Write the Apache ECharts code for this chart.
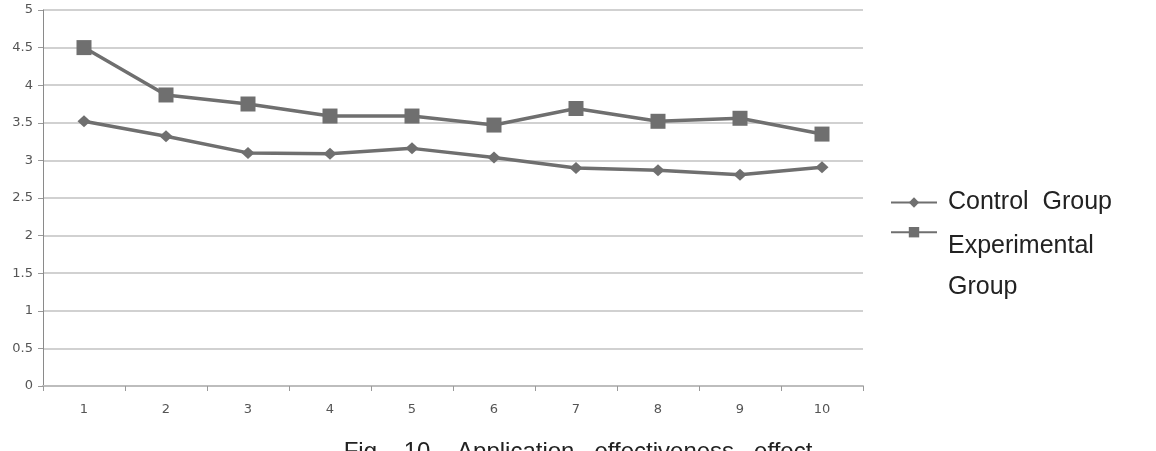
<!DOCTYPE html>
<html>
<head>
<meta charset="utf-8">
<script src="https://cdn.jsdelivr.net/npm/echarts@6/dist/echarts.min.js"></script>
<style>
html,body{margin:0;padding:0;background:#fff;}
#chart{width:1156px;height:451px;}
</style>
</head>
<body>
<div id="chart"></div>
<script>
const categories = ['1','2','3','4','5','6','7','8','9','10'];
const controlGroup = [3.52, 3.32, 3.10, 3.09, 3.16, 3.04, 2.90, 2.87, 2.81, 2.91];
const experimentalGroup = [4.50, 3.87, 3.75, 3.59, 3.59, 3.47, 3.69, 3.52, 3.56, 3.35];
const seriesNames = ['Control Group', 'Experimental Group'];
const yTicks = { min: 0, max: 5, interval: 0.5 };
const captionText = 'Fig.   10    Application   effectiveness   effect';

const chart = echarts.init(document.getElementById('chart'));
const lineColor = '#6f6f6f';
const labelFont = '"DejaVu Sans", Verdana, sans-serif';
chart.setOption({
  animation: false,
  backgroundColor: '#ffffff',
  title: {
    text: captionText,
    left: 'center',
    top: 435,
    textStyle: { fontFamily: '"Liberation Sans", Arial, sans-serif', fontSize: 24, fontWeight: 'normal', color: '#222' }
  },
  grid: { left: 43, right: 293, top: 10, bottom: 65 },
  legend: {
    orient: 'vertical',
    left: 885,
    top: 185,
    itemWidth: 46,
    itemHeight: 13,
    itemGap: 12,
    data: [
      { name: seriesNames[0], textStyle: { padding: [0, 0, 0, 6] } },
      { name: seriesNames[1], textStyle: { padding: [68, 0, 0, 6] } }
    ],
    formatter: function (name) {
      return name === seriesNames[1] ? '{e|Experimental}\n{e|Group}' : name.replace(' ', '  ');
    },
    textStyle: {
      fontFamily: '"Liberation Sans", Arial, sans-serif',
      fontSize: 25,
      color: '#222',
      rich: { e: { fontFamily: '"Liberation Sans", Arial, sans-serif', fontSize: 25, color: '#222', lineHeight: 41 } }
    }
  },
  xAxis: {
    type: 'category',
    data: categories,
    boundaryGap: true,
    axisLine: { lineStyle: { color: '#bdbdbd', width: 2 } },
    axisTick: { show: true, alignWithLabel: false, length: 5, lineStyle: { color: '#9a9a9a' } },
    axisLabel: { margin: 17, fontFamily: labelFont, fontSize: 13, color: '#555' },
    splitLine: { show: false }
  },
  yAxis: {
    type: 'value',
    min: yTicks.min,
    max: yTicks.max,
    interval: yTicks.interval,
    axisLine: { show: true, lineStyle: { color: '#8a8a8a', width: 1 } },
    axisTick: { show: true, length: 5, lineStyle: { color: '#9a9a9a' } },
    axisLabel: { margin: 10, fontFamily: labelFont, fontSize: 13, color: '#555' },
    splitLine: { show: true, lineStyle: { color: '#c2c2c2', width: 1.5 } }
  },
  series: [
    {
      name: seriesNames[0],
      type: 'line',
      data: controlGroup,
      symbol: 'diamond',
      symbolSize: [13, 12],
      showAllSymbol: true,
      lineStyle: { color: lineColor, width: 3.5 },
      itemStyle: { color: lineColor, borderWidth: 0 }
    },
    {
      name: seriesNames[1],
      type: 'line',
      data: experimentalGroup,
      symbol: 'rect',
      symbolSize: 15,
      showAllSymbol: true,
      lineStyle: { color: lineColor, width: 3.5 },
      itemStyle: { color: lineColor, borderWidth: 0 }
    }
  ]
});
</script>
</body>
</html>
